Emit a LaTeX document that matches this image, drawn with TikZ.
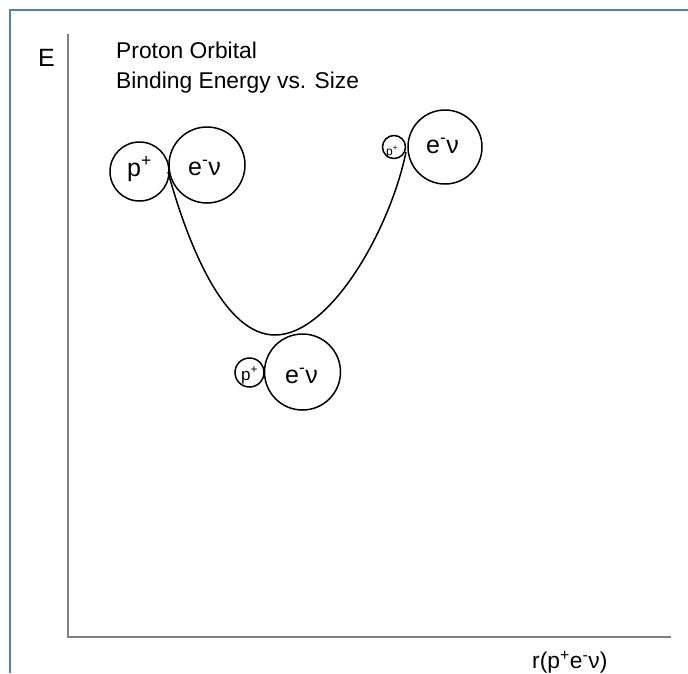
\documentclass[tikz,border=0pt]{standalone}
\usepackage{fontspec}
\setmainfont{Liberation Sans}
\definecolor{borderblue}{HTML}{4F81BD}
\definecolor{axisgray}{HTML}{808080}
\begin{document}
\begin{tikzpicture}[x=1pt,y=-1pt,
  orb/.style={circle,draw,line width=1.5pt,inner sep=0pt},
  lbl/.style={anchor=base west,inner sep=0pt},
  big/.style={font=\fontsize{25}{30}\selectfont},
  ttl/.style={font=\fontsize{22.8}{27}\selectfont},
  axisline/.style={draw=axisgray,line width=1.6pt},
  curveline/.style={line width=1.5pt,line join=round}
]
\useasboundingbox (0,0) rectangle (688,673);
\fill[white] (0,0) rectangle (688,673);
\coordinate (bl) at (10,673);
\coordinate (tl) at (10,10);
\coordinate (tr) at (688,10);
\draw[borderblue,line width=2pt] (bl) -- (tl) -- (tr);

% axes
\coordinate (ytop) at (68,34);
\coordinate (origin) at (68,637);
\coordinate (xend) at (671,637);
\draw[axisline] (ytop) -- (origin) -- (xend);

% texts
\node[lbl,big] (E) at (38,66) {E};
\node[lbl,ttl] (t1) at (116,58) {Proton Orbital};
\node[lbl,ttl] (t2) at (116,88) {Binding Energy vs. Size};
\node[lbl,ttl] (xl) at (532,668) {r(p\textsuperscript{+}e\textsuperscript{-}ν)};

% circles
\node[orb,minimum size=59pt] (p1) at (139.5,171.5) {};
\node[orb,minimum size=76pt] (e1) at (207,165) {};
\node[orb,minimum size=23pt] (p2) at (394,147) {};
\node[orb,minimum size=74pt] (e2) at (445,147) {};
\node[orb,minimum size=29pt] (p3) at (249.5,372.5) {};
\node[orb,minimum size=76pt] (e3) at (302.5,372) {};

% labels in circles
\node[lbl,big] (lp1) at (127,176) {p\textsuperscript{+}};
\node[lbl,big] (le1) at (188,175) {e\textsuperscript{-}ν};
\node[lbl,font=\fontsize{12}{14}\selectfont] (lp2) at (386,155) {p\textsuperscript{+}};
\node[lbl,big] (le2) at (426,153) {e\textsuperscript{-}ν};
\node[lbl,font=\fontsize{17}{20}\selectfont] (lp3) at (241,380) {p\textsuperscript{+}};
\node[lbl,big] (le3) at (285,383) {e\textsuperscript{-}ν};

% energy curve
\coordinate (cstart) at (168,172);
\coordinate (cmin) at (275,335);
\coordinate (cend) at (406,152);
\draw[curveline] (cstart) .. controls (189,248) and (225,335) .. (cmin)
  .. controls (330,335) and (390,230) .. (cend);
\end{tikzpicture}
\end{document}
